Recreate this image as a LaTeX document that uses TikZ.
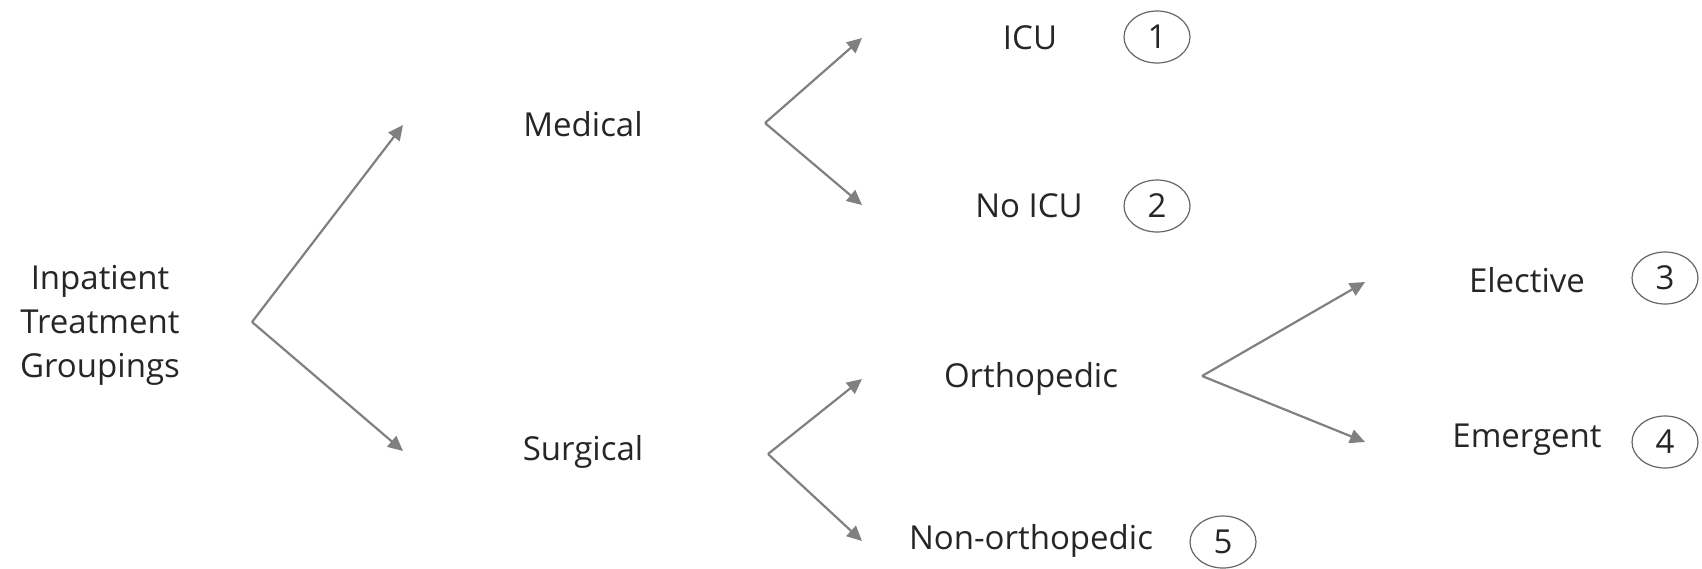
\documentclass[tikz,border=0pt]{standalone}
\usepackage{fontspec}
\setmainfont{Open Sans}
\usetikzlibrary{arrows.meta}
\usetikzlibrary{shapes.geometric}

\begin{document}
\begin{tikzpicture}[x=0.5pt, y=-0.5pt,
				   every node/.style={text=black!85, font=\fontsize{16.5}{22}\selectfont, inner sep=0pt},
				   label/.style={align=center},
				   num/.style={ellipse, draw=black!60, line width=0.6pt, minimum width=33pt, minimum height=26pt},
				   branch/.style={draw=black!50, line width=1.1pt, -{Triangle[length=7.5pt, width=7pt]}}]
\useasboundingbox (0,0) rectangle (1702,568);
% labels
\node[label] (root) at (100,325) {Inpatient\\Treatment\\Groupings};
\node[label] (med) at (583,124) {Medical};
\node[label] (surg) at (583,452) {Surgical};
\node[label] (icu) at (1030,38) {ICU};
\node[label] (noicu) at (1029,206) {No ICU};
\node[label] (ortho) at (1031,379) {Orthopedic};
\node[label] (nonortho) at (1031,541) {Non-orthopedic};
\node[label] (elec) at (1527,280) {Elective};
\node[label] (emer) at (1527,440) {Emergent};
% group numbers
\node[num] (n1) at (1157,37) {1};
\node[num] (n2) at (1157,206) {2};
\node[num] (n3) at (1665,278) {3};
\node[num] (n4) at (1665,442) {4};
\node[num] (n5) at (1223,542) {5};
% forks
\coordinate (root fork) at (252,322);
\coordinate (med tip) at (403,125);
\coordinate (surg tip) at (403,451);
\coordinate (med fork) at (765,123);
\coordinate (icu tip) at (862,38);
\coordinate (noicu tip) at (862,205);
\coordinate (surg fork) at (768,454);
\coordinate (ortho tip) at (862,379);
\coordinate (nonortho tip) at (862,541);
\coordinate (ortho fork) at (1202,376);
\coordinate (elec tip) at (1365,282);
\coordinate (emer tip) at (1365,442);
\draw[branch] (root fork) -- (med tip);
\draw[branch] (root fork) -- (surg tip);
\draw[branch] (med fork) -- (icu tip);
\draw[branch] (med fork) -- (noicu tip);
\draw[branch] (surg fork) -- (ortho tip);
\draw[branch] (surg fork) -- (nonortho tip);
\draw[branch] (ortho fork) -- (elec tip);
\draw[branch] (ortho fork) -- (emer tip);
\end{tikzpicture}
\end{document}
